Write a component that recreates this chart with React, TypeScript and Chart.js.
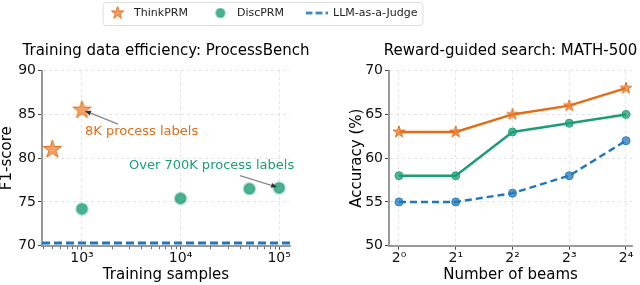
import { useEffect, useRef } from 'react';
import { Chart, registerables } from 'chart.js';

Chart.register(...registerables);
Chart.defaults.font.family = 'DejaVu Sans';
Chart.defaults.color = '#111';

const ORANGE = '#E36C14';
const GREEN = '#1B9E77';
const BLUE = '#1F78BE';

const SERIES_NAMES = ['ThinkPRM', 'DiscPRM', 'LLM-as-a-Judge'];

// Left panel: training data efficiency (ProcessBench)
const THINK_SAMPLES = [500, 1000];
const THINK_F1 = [81.0, 85.5];
const DISC_SAMPLES = [1000, 10000, 50000, 100000];
const DISC_F1 = [74.2, 75.4, 76.5, 76.6];
const JUDGE_F1 = 70.3;
const SAMPLE_TICKS = [1e3, 1e4, 1e5];
const SAMPLE_MIN = 393;
const SAMPLE_MAX = 1.29e5;

// Right panel: reward-guided search (MATH-500)
const BEAMS = [1, 2, 4, 8, 16];
const THINK_ACC = [63, 63, 65, 66, 68];
const DISC_ACC = [58, 58, 63, 64, 65];
const JUDGE_ACC = [55, 55, 56, 58, 62];

const ANNOTATIONS = [
  { text: '8K process labels', color: ORANGE, at: [1073, 83.0], from: [2322, 83.9], to: [1073, 85.4] },
  { text: 'Over 700K process labels', color: GREEN, at: [3000, 79.1], from: [40170, 78.0], to: [95500, 76.7] },
];

const SUP: Record<string, string> = { '0': '⁰', '1': '¹', '2': '²', '3': '³', '4': '⁴', '5': '⁵', '6': '⁶' };
const sup = (n: number) => String(n).split('').map((c) => SUP[c] || c).join('');

function makeStar(R: number, fill: string, stroke: string, lw: number) {
  const c = document.createElement('canvas');
  const s = Math.ceil(2 * R + 2 * lw + 2);
  c.width = s;
  c.height = s;
  const ctx = c.getContext('2d')!;
  const cx = s / 2, cy = s / 2;
  ctx.beginPath();
  for (let i = 0; i < 10; i++) {
    const r = i % 2 ? R * 0.382 : R;
    const a = -Math.PI / 2 + (i * Math.PI) / 5;
    const px = cx + r * Math.cos(a), py = cy + r * Math.sin(a);
    if (i === 0) ctx.moveTo(px, py); else ctx.lineTo(px, py);
  }
  ctx.closePath();
  ctx.fillStyle = fill;
  ctx.fill();
  ctx.lineWidth = lw;
  ctx.strokeStyle = stroke;
  ctx.stroke();
  return c;
}

function makeCircle(r: number, fill: string, stroke: string, lw: number) {
  const c = document.createElement('canvas');
  const s = Math.ceil(2 * r + 2 * lw + 2);
  c.width = s;
  c.height = s;
  const ctx = c.getContext('2d')!;
  ctx.beginPath();
  ctx.arc(s / 2, s / 2, r, 0, Math.PI * 2);
  ctx.fillStyle = fill;
  ctx.fill();
  ctx.lineWidth = lw;
  ctx.strokeStyle = stroke;
  ctx.stroke();
  return c;
}

function makeDash(w: number, color: string, lw: number, dash: number[]) {
  const c = document.createElement('canvas');
  c.width = w;
  c.height = Math.ceil(lw + 4);
  const ctx = c.getContext('2d')!;
  ctx.strokeStyle = color;
  ctx.lineWidth = lw;
  ctx.setLineDash(dash);
  ctx.beginPath();
  ctx.moveTo(0, c.height / 2);
  ctx.lineTo(w, c.height / 2);
  ctx.stroke();
  return c;
}

const tickFont = { size: 14 };
const titleFont = { size: 15, weight: 'normal' as const };

function axisCommon() {
  return {
    border: { color: '#999', width: 2, dash: [3, 3] },
    grid: {
      color: '#dcdcdc',
      lineWidth: 0.8,
      tickLength: 4,
      tickColor: '#444',
      tickWidth: 1,
      tickBorderDash: [],
    },
  };
}

// invisible right-hand axis so the title centres over the plot area
function spacerAxis(width: number) {
  return {
    type: 'linear',
    position: 'right',
    display: true,
    grid: { display: false, drawTicks: false, drawOnChartArea: false },
    border: { display: false },
    ticks: { display: false },
    title: { display: false },
    afterFit: (s: any) => {
      s.width = width;
    },
  };
}

const minorTicksPlugin = {
  id: 'minorTicks',
  afterDraw(chart: any) {
    const sx = chart.scales.x;
    const ctx = chart.ctx;
    const minors: number[] = [];
    for (let d = 100; d <= 100000; d *= 10) {
      for (let k = 2; k <= 9; k++) {
        const v = d * k;
        if (v > SAMPLE_MIN && v < SAMPLE_MAX) minors.push(v);
      }
    }
    ctx.save();
    ctx.strokeStyle = '#444';
    ctx.lineWidth = 0.8;
    const y0 = chart.chartArea.bottom + 1;
    minors.forEach((v) => {
      const px = Math.round(sx.getPixelForValue(v)) + 0.5;
      ctx.beginPath();
      ctx.moveTo(px, y0);
      ctx.lineTo(px, y0 + 2.5);
      ctx.stroke();
    });
    ctx.restore();
  },
};

const annotationPlugin = {
  id: 'annot',
  afterDatasetsDraw(chart: any) {
    const { ctx } = chart;
    const sx = chart.scales.x, sy = chart.scales.y;
    ctx.save();
    ANNOTATIONS.forEach((a) => {
      const fx = sx.getPixelForValue(a.from[0]), fy = sy.getPixelForValue(a.from[1]);
      const tx = sx.getPixelForValue(a.to[0]), ty = sy.getPixelForValue(a.to[1]);
      const ang = Math.atan2(ty - fy, tx - fx);
      const hl = 6, hw = 2.5;
      const bx = tx - hl * Math.cos(ang), by = ty - hl * Math.sin(ang);
      ctx.strokeStyle = '#888';
      ctx.lineWidth = 1.3;
      ctx.beginPath();
      ctx.moveTo(fx, fy);
      ctx.lineTo(bx, by);
      ctx.stroke();
      ctx.fillStyle = '#333';
      ctx.beginPath();
      ctx.moveTo(tx, ty);
      ctx.lineTo(bx + hw * Math.sin(ang), by - hw * Math.cos(ang));
      ctx.lineTo(bx - hw * Math.sin(ang), by + hw * Math.cos(ang));
      ctx.closePath();
      ctx.fill();
      ctx.fillStyle = a.color;
      ctx.font = '13px DejaVu Sans';
      ctx.textAlign = 'left';
      ctx.textBaseline = 'middle';
      ctx.fillText(a.text, sx.getPixelForValue(a.at[0]), sy.getPixelForValue(a.at[1]));
    });
    ctx.restore();
  },
};

function leftConfig(): any {
  const star = makeStar(9.5, 'rgba(236,128,50,0.72)', ORANGE, 1);
  const common = axisCommon();
  return {
    type: 'scatter',
    data: {
      datasets: [
        {
          label: SERIES_NAMES[2],
          data: [
            { x: SAMPLE_MIN, y: JUDGE_F1 },
            { x: SAMPLE_MAX, y: JUDGE_F1 },
          ],
          showLine: true,
          borderColor: BLUE,
          borderWidth: 3,
          borderDash: [8, 4],
          pointRadius: 0,
        },
        {
          label: SERIES_NAMES[1],
          data: DISC_SAMPLES.map((x, i) => ({ x, y: DISC_F1[i] })),
          pointStyle: 'circle',
          pointRadius: 5.5,
          backgroundColor: 'rgba(27,158,119,0.8)',
          borderColor: 'rgba(27,158,119,0.35)',
          borderWidth: 2.5,
        },
        {
          label: SERIES_NAMES[0],
          data: THINK_SAMPLES.map((x, i) => ({ x, y: THINK_F1[i] })),
          pointStyle: star,
          pointRadius: 9,
        },
      ],
    },
    options: {
      responsive: false,
      animation: false,
      devicePixelRatio: 1,
      layout: { padding: 0 },
      plugins: {
        legend: { display: false },
        tooltip: { enabled: false },
        title: {
          display: true,
          text: 'Training data efficiency: ProcessBench',
          color: '#000',
          font: titleFont,
          padding: { top: 41.7, bottom: 11 },
        },
      },
      scales: {
        x: {
          type: 'logarithmic',
          min: SAMPLE_MIN,
          max: SAMPLE_MAX,
          ...common,
          afterBuildTicks: (s: any) => {
            s.ticks = SAMPLE_TICKS.map((v) => ({ value: v }));
          },
          afterFit: (s: any) => {
            s.height = 39.3;
          },
          ticks: {
            font: tickFont,
            color: '#111',
            padding: 0,
            maxRotation: 0,
            autoSkip: false,
            callback: (v: number) => '10' + sup(Math.round(Math.log10(v))),
          },
          title: {
            display: true,
            text: 'Training samples',
            color: '#000',
            font: titleFont,
            padding: { top: 0, bottom: 0.8 },
          },
        },
        y: {
          min: 70,
          max: 90,
          ...common,
          afterFit: (s: any) => {
            s.width = 42;
          },
          ticks: { stepSize: 5, font: tickFont, color: '#111', padding: 2 },
          title: {
            display: true,
            text: 'F1-score',
            color: '#000',
            font: { ...titleFont, lineHeight: 1 },
            padding: { top: 0, bottom: 0 },
          },
        },
        yspacer: spacerAxis(42),
      },
    },
    plugins: [minorTicksPlugin, annotationPlugin],
  };
}

function rightConfig(): any {
  const star = makeStar(6, 'rgba(236,128,50,0.75)', ORANGE, 1);
  const common = axisCommon();
  return {
    type: 'scatter',
    data: {
      datasets: [
        {
          label: SERIES_NAMES[2],
          data: BEAMS.map((x, i) => ({ x, y: JUDGE_ACC[i] })),
          showLine: true,
          borderColor: BLUE,
          borderWidth: 2.4,
          borderDash: [7, 4],
          pointStyle: 'circle',
          pointRadius: 4,
          backgroundColor: 'rgba(31,120,190,0.75)',
          pointBorderColor: 'rgba(31,120,190,0.9)',
          pointBorderWidth: 1,
        },
        {
          label: SERIES_NAMES[1],
          data: BEAMS.map((x, i) => ({ x, y: DISC_ACC[i] })),
          showLine: true,
          borderColor: GREEN,
          borderWidth: 2.4,
          pointStyle: 'circle',
          pointRadius: 4,
          backgroundColor: 'rgba(27,158,119,0.75)',
          pointBorderColor: 'rgba(27,158,119,0.9)',
          pointBorderWidth: 1,
        },
        {
          label: SERIES_NAMES[0],
          data: BEAMS.map((x, i) => ({ x, y: THINK_ACC[i] })),
          showLine: true,
          borderColor: ORANGE,
          borderWidth: 2.4,
          pointStyle: star,
          pointRadius: 6,
        },
      ],
    },
    options: {
      responsive: false,
      animation: false,
      devicePixelRatio: 1,
      layout: { padding: 0 },
      plugins: {
        legend: { display: false },
        tooltip: { enabled: false },
        title: {
          display: true,
          text: 'Reward-guided search: MATH-500',
          color: '#000',
          font: titleFont,
          padding: { top: 41.7, bottom: 11 },
        },
      },
      scales: {
        x: {
          type: 'logarithmic',
          min: Math.pow(2, -0.176),
          max: Math.pow(2, 4.106),
          ...common,
          afterBuildTicks: (s: any) => {
            s.ticks = BEAMS.map((v) => ({ value: v }));
          },
          afterFit: (s: any) => {
            s.height = 39.3;
          },
          ticks: {
            font: tickFont,
            color: '#111',
            padding: 0,
            maxRotation: 0,
            autoSkip: false,
            callback: (v: number) => '2' + sup(Math.round(Math.log2(v))),
          },
          title: {
            display: true,
            text: 'Number of beams',
            color: '#000',
            font: titleFont,
            padding: { top: 0, bottom: 0.8 },
          },
        },
        y: {
          min: 50,
          max: 70,
          ...common,
          afterFit: (s: any) => {
            s.width = 42;
          },
          ticks: { stepSize: 5, font: tickFont, color: '#111', padding: 2 },
          title: {
            display: true,
            text: 'Accuracy (%)',
            color: '#000',
            font: { ...titleFont, lineHeight: 1 },
            padding: { top: 2.7, bottom: 0 },
          },
        },
        yspacer: spacerAxis(42),
      },
    },
  };
}

const legendBoxPlugin = {
  id: 'legendBox',
  afterDraw(chart: any) {
    const boxes = chart.legend?.legendHitBoxes || [];
    if (!boxes.length) return;
    const l = Math.min(...boxes.map((b: any) => b.left)) - 4;
    const r = Math.max(...boxes.map((b: any) => b.left + b.width)) + 5;
    const t = Math.min(...boxes.map((b: any) => b.top)) - 5.5;
    const btm = Math.max(...boxes.map((b: any) => b.top + b.height)) + 6.5;
    const ctx = chart.ctx;
    ctx.save();
    ctx.strokeStyle = '#dddddd';
    ctx.lineWidth = 1;
    ctx.beginPath();
    if (ctx.roundRect) ctx.roundRect(l + 0.5, t + 0.5, r - l, btm - t, 3);
    else ctx.rect(l + 0.5, t + 0.5, r - l, btm - t);
    ctx.stroke();
    ctx.restore();
  },
};

function legendConfig(): any {
  const icons = [
    makeStar(6.5, 'rgba(236,128,50,0.75)', ORANGE, 1),
    makeCircle(4.5, 'rgba(27,158,119,0.8)', 'rgba(27,158,119,0.4)', 1.5),
    makeDash(22, BLUE, 2.4, [7, 3]),
  ];
  const colors = [ORANGE, GREEN, BLUE];
  return {
    type: 'scatter',
    data: {
      datasets: SERIES_NAMES.map((name, i) => ({ label: name, data: [], borderColor: colors[i] })),
    },
    options: {
      responsive: false,
      animation: false,
      devicePixelRatio: 1,
      layout: { padding: 0 },
      scales: { x: { display: false }, y: { display: false } },
      plugins: {
        tooltip: { enabled: false },
        legend: {
          display: true,
          position: 'top',
          maxHeight: 70,
          labels: {
            usePointStyle: true,
            pointStyleWidth: 22,
            padding: 21.5,
            color: '#222',
            font: { size: 11 },
            generateLabels: () =>
              SERIES_NAMES.map((name, i) => ({
                text: name,
                pointStyle: icons[i],
                fillStyle: colors[i],
                strokeStyle: colors[i],
                lineWidth: 0,
                hidden: false,
                datasetIndex: i,
                fontColor: '#222',
              })),
          },
        },
      },
    },
    plugins: [legendBoxPlugin],
  };
}

function ChartBox({ make, left, top, width, height }: { make: () => any; left: number; top: number; width: number; height: number }) {
  const ref = useRef<HTMLCanvasElement>(null);
  useEffect(() => {
    const chart = new Chart(ref.current!, make());
    return () => chart.destroy();
  }, []);
  return (
    <div style={{ position: 'absolute', left, top, width, height }}>
      <canvas ref={ref} width={width} height={height} style={{ display: 'block', width, height }} />
    </div>
  );
}

export default function App() {
  return (
    <div style={{ position: 'fixed', left: 0, top: 0, width: 640, height: 285, overflow: 'hidden', background: '#fff' }}>
      <ChartBox make={leftConfig} left={0} top={0} width={332} height={285} />
      <ChartBox make={rightConfig} left={347} top={0} width={327} height={285} />
      <ChartBox make={legendConfig} left={62} top={-14} width={400} height={90} />
    </div>
  );
}
